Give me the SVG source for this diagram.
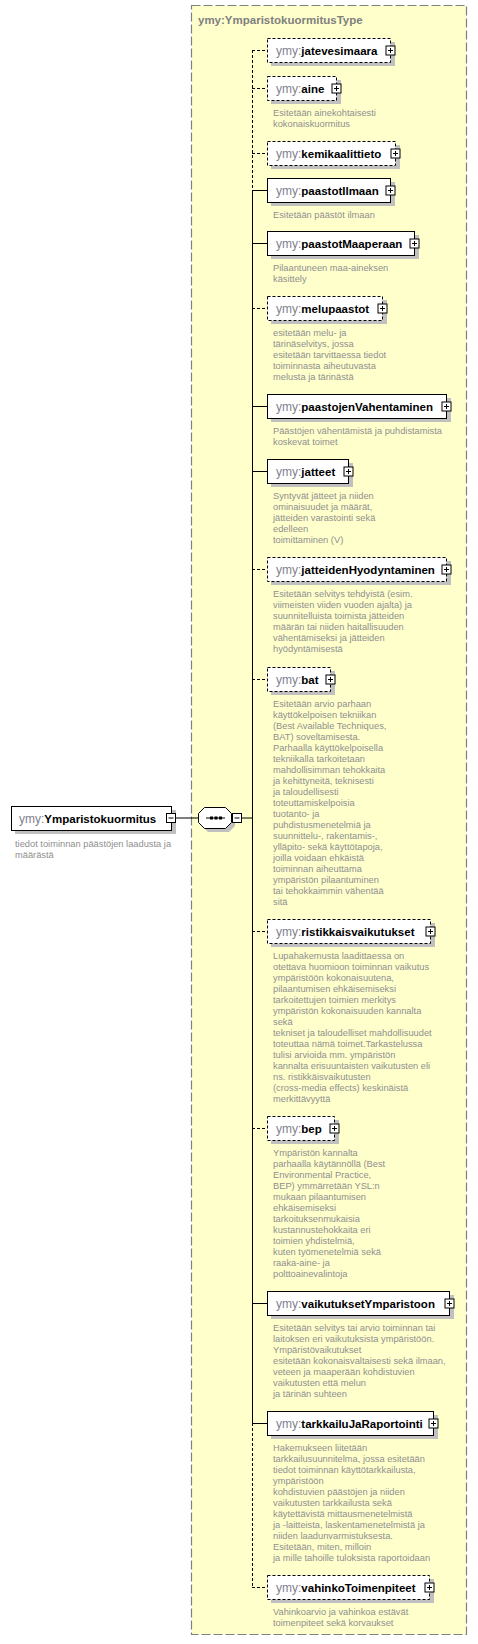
<svg xmlns="http://www.w3.org/2000/svg" width="478" height="1644" viewBox="0 0 478 1644">
<style>
.bg{fill:#ffffff}
.type{fill:#ffffcc;stroke:#808080;stroke-width:1.2;stroke-dasharray:9,3}
.typelbl{font-family:"Liberation Sans",Arial,sans-serif;font-size:11.5px;font-weight:bold;fill:#808080}
.sh{fill:#c0c0c0}
.box{fill:#ffffff;stroke:#000000;stroke-width:1}
.opt{stroke-dasharray:3,2}
.nm{font-family:"Liberation Sans",Arial,sans-serif;font-size:12px;fill:#000000}
.pf{fill:#7f7f8f;font-weight:normal}
.b{font-weight:bold;font-size:11.5px}
.ds{font-family:"Liberation Sans",Arial,sans-serif;font-size:9.3px;fill:#8f8f8f}
.ic{fill:#ffffff;stroke:#000000;stroke-width:1}
.icl{stroke:#000000;stroke-width:1}
.cn{stroke:#000000;stroke-width:1;fill:none}
.cd{stroke-dasharray:3,2}
</style>
<rect class="bg" x="0" y="0" width="478" height="1644"/>
<g id="type-YmparistokuormitusType">
<rect class="type" x="191.5" y="5.5" width="275" height="1629"/>
<text class="typelbl" x="198" y="23.5">ymy:YmparistokuormitusType</text>
</g>
<g id="connectors">
<line class="cn" x1="176" y1="818" x2="198" y2="818"/>
<line class="cn" x1="242" y1="818" x2="252.5" y2="818"/>
<line class="cn cd" x1="252.5" y1="50" x2="252.5" y2="190"/>
<line class="cn" x1="252.5" y1="190" x2="252.5" y2="1423"/>
<line class="cn cd" x1="252.5" y1="1423" x2="252.5" y2="1587"/>
<line class="cn cd" x1="252" y1="50.5" x2="267" y2="50.5"/>
<line class="cn cd" x1="252" y1="88.5" x2="267" y2="88.5"/>
<line class="cn cd" x1="252" y1="153.5" x2="267" y2="153.5"/>
<line class="cn" x1="252" y1="190.5" x2="267" y2="190.5"/>
<line class="cn" x1="252" y1="243.5" x2="267" y2="243.5"/>
<line class="cn cd" x1="252" y1="308.5" x2="267" y2="308.5"/>
<line class="cn" x1="252" y1="406.5" x2="267" y2="406.5"/>
<line class="cn" x1="252" y1="471.5" x2="267" y2="471.5"/>
<line class="cn cd" x1="252" y1="569.5" x2="267" y2="569.5"/>
<line class="cn cd" x1="252" y1="679.5" x2="267" y2="679.5"/>
<line class="cn cd" x1="252" y1="931.5" x2="267" y2="931.5"/>
<line class="cn cd" x1="252" y1="1128.5" x2="267" y2="1128.5"/>
<line class="cn" x1="252" y1="1303.5" x2="267" y2="1303.5"/>
<line class="cn" x1="252" y1="1423.5" x2="267" y2="1423.5"/>
<line class="cn cd" x1="252" y1="1587.5" x2="267" y2="1587.5"/>
</g>
<g id="root-Ymparistokuormitus">
<rect class="sh" x="15" y="810" width="161" height="24"/>
<rect class="box" x="11.5" y="806.5" width="160" height="24"/>
<text class="nm" x="19" y="822.5"><tspan class="pf">ymy:</tspan><tspan class="b">Ymparistokuormitus</tspan></text>
<rect class="ic" x="166.5" y="813.5" width="9" height="9"/>
<line class="icl" x1="168.5" y1="818" x2="173.5" y2="818"/>
<text class="ds" x="15" y="847">tiedot toiminnan päästöjen laadusta ja</text>
<text class="ds" x="15" y="858">määrästä</text>
</g>
<g id="sequence">
<path class="sh" d="M208,811 H229 L235,817 V826 L229,832 H208 L202,826 V817 Z"/>
<path class="box" d="M204.5,807.5 H225.5 L231.5,813.5 V822.5 L225.5,828.5 H204.5 L198.5,822.5 V813.5 Z"/>
<line class="icl" x1="206" y1="818" x2="225" y2="818"/>
<rect x="210" y="816.5" width="3" height="3" fill="#000"/>
<rect x="214.5" y="816.5" width="3" height="3" fill="#000"/>
<rect x="219" y="816.5" width="3" height="3" fill="#000"/>
<rect class="ic" x="232.5" y="813.5" width="9" height="9"/>
<line class="icl" x1="234.5" y1="818" x2="239.5" y2="818"/>
</g>
<g id="el-jatevesimaara">
<rect class="sh" x="271" y="42" width="124" height="24"/>
<rect class="box opt" x="267.5" y="38.5" width="123" height="24"/>
<text class="nm" x="276" y="55"><tspan class="pf">ymy:</tspan><tspan class="b">jatevesimaara</tspan></text>
<rect class="ic" x="386" y="46" width="9" height="9"/><line class="icl" x1="388" y1="50.5" x2="393" y2="50.5"/><line class="icl" x1="390.5" y1="48" x2="390.5" y2="53"/>
</g>
<g id="el-aine">
<rect class="sh" x="271" y="80" width="70" height="24"/>
<rect class="box opt" x="267.5" y="76.5" width="69" height="24"/>
<text class="nm" x="276" y="93"><tspan class="pf">ymy:</tspan><tspan class="b">aine</tspan></text>
<rect class="ic" x="332" y="84" width="9" height="9"/><line class="icl" x1="334" y1="88.5" x2="339" y2="88.5"/><line class="icl" x1="336.5" y1="86" x2="336.5" y2="91"/>
<text class="ds" x="273" y="116">Esitetään ainekohtaisesti</text>
<text class="ds" x="273" y="127">kokonaiskuormitus</text>
</g>
<g id="el-kemikaalittieto">
<rect class="sh" x="271" y="145" width="129" height="24"/>
<rect class="box opt" x="267.5" y="141.5" width="128" height="24"/>
<text class="nm" x="276" y="158"><tspan class="pf">ymy:</tspan><tspan class="b">kemikaalittieto</tspan></text>
<rect class="ic" x="391" y="149" width="9" height="9"/><line class="icl" x1="393" y1="153.5" x2="398" y2="153.5"/><line class="icl" x1="395.5" y1="151" x2="395.5" y2="156"/>
</g>
<g id="el-paastotIlmaan">
<rect class="sh" x="271" y="182" width="124" height="24"/>
<rect class="box" x="267.5" y="178.5" width="123" height="24"/>
<text class="nm" x="276" y="195"><tspan class="pf">ymy:</tspan><tspan class="b">paastotIlmaan</tspan></text>
<rect class="ic" x="386" y="186" width="9" height="9"/><line class="icl" x1="388" y1="190.5" x2="393" y2="190.5"/><line class="icl" x1="390.5" y1="188" x2="390.5" y2="193"/>
<text class="ds" x="273" y="218">Esitetään päästöt ilmaan</text>
</g>
<g id="el-paastotMaaperaan">
<rect class="sh" x="271" y="235" width="148" height="24"/>
<rect class="box" x="267.5" y="231.5" width="147" height="24"/>
<text class="nm" x="276" y="248"><tspan class="pf">ymy:</tspan><tspan class="b">paastotMaaperaan</tspan></text>
<rect class="ic" x="410" y="239" width="9" height="9"/><line class="icl" x1="412" y1="243.5" x2="417" y2="243.5"/><line class="icl" x1="414.5" y1="241" x2="414.5" y2="246"/>
<text class="ds" x="273" y="271">Pilaantuneen maa-aineksen</text>
<text class="ds" x="273" y="282">käsittely</text>
</g>
<g id="el-melupaastot">
<rect class="sh" x="271" y="300" width="116" height="24"/>
<rect class="box opt" x="267.5" y="296.5" width="115" height="24"/>
<text class="nm" x="276" y="313"><tspan class="pf">ymy:</tspan><tspan class="b">melupaastot</tspan></text>
<rect class="ic" x="378" y="304" width="9" height="9"/><line class="icl" x1="380" y1="308.5" x2="385" y2="308.5"/><line class="icl" x1="382.5" y1="306" x2="382.5" y2="311"/>
<text class="ds" x="273" y="336">esitetään melu- ja</text>
<text class="ds" x="273" y="347">tärinäselvitys, jossa</text>
<text class="ds" x="273" y="358">esitetään tarvittaessa tiedot</text>
<text class="ds" x="273" y="369">toiminnasta aiheutuvasta</text>
<text class="ds" x="273" y="380">melusta ja tärinästä</text>
</g>
<g id="el-paastojenVahentaminen">
<rect class="sh" x="271" y="398" width="180" height="24"/>
<rect class="box" x="267.5" y="394.5" width="179" height="24"/>
<text class="nm" x="276" y="411"><tspan class="pf">ymy:</tspan><tspan class="b">paastojenVahentaminen</tspan></text>
<rect class="ic" x="442" y="402" width="9" height="9"/><line class="icl" x1="444" y1="406.5" x2="449" y2="406.5"/><line class="icl" x1="446.5" y1="404" x2="446.5" y2="409"/>
<text class="ds" x="273" y="434">Päästöjen vähentämistä ja puhdistamista</text>
<text class="ds" x="273" y="445">koskevat toimet</text>
</g>
<g id="el-jatteet">
<rect class="sh" x="271" y="463" width="82" height="24"/>
<rect class="box" x="267.5" y="459.5" width="81" height="24"/>
<text class="nm" x="276" y="476"><tspan class="pf">ymy:</tspan><tspan class="b">jatteet</tspan></text>
<rect class="ic" x="344" y="467" width="9" height="9"/><line class="icl" x1="346" y1="471.5" x2="351" y2="471.5"/><line class="icl" x1="348.5" y1="469" x2="348.5" y2="474"/>
<text class="ds" x="273" y="499">Syntyvät jätteet ja niiden</text>
<text class="ds" x="273" y="510">ominaisuudet ja määrät,</text>
<text class="ds" x="273" y="521">jätteiden varastointi sekä</text>
<text class="ds" x="273" y="532">edelleen</text>
<text class="ds" x="273" y="543">toimittaminen (V)</text>
</g>
<g id="el-jatteidenHyodyntaminen">
<rect class="sh" x="271" y="561" width="180" height="24"/>
<rect class="box opt" x="267.5" y="557.5" width="179" height="24"/>
<text class="nm" x="276" y="574"><tspan class="pf">ymy:</tspan><tspan class="b">jatteidenHyodyntaminen</tspan></text>
<rect class="ic" x="442" y="565" width="9" height="9"/><line class="icl" x1="444" y1="569.5" x2="449" y2="569.5"/><line class="icl" x1="446.5" y1="567" x2="446.5" y2="572"/>
<text class="ds" x="273" y="597">Esitetään selvitys tehdyistä (esim.</text>
<text class="ds" x="273" y="608">viimeisten viiden vuoden ajalta) ja</text>
<text class="ds" x="273" y="619">suunnitelluista toimista jätteiden</text>
<text class="ds" x="273" y="630">määrän tai niiden haitallisuuden</text>
<text class="ds" x="273" y="641">vähentämiseksi ja jätteiden</text>
<text class="ds" x="273" y="652">hyödyntämisestä</text>
</g>
<g id="el-bat">
<rect class="sh" x="271" y="671" width="64" height="24"/>
<rect class="box opt" x="267.5" y="667.5" width="63" height="24"/>
<text class="nm" x="276" y="684"><tspan class="pf">ymy:</tspan><tspan class="b">bat</tspan></text>
<rect class="ic" x="326" y="675" width="9" height="9"/><line class="icl" x1="328" y1="679.5" x2="333" y2="679.5"/><line class="icl" x1="330.5" y1="677" x2="330.5" y2="682"/>
<text class="ds" x="273" y="707">Esitetään arvio parhaan</text>
<text class="ds" x="273" y="718">käyttökelpoisen tekniikan</text>
<text class="ds" x="273" y="729">(Best Available Techniques,</text>
<text class="ds" x="273" y="740">BAT) soveltamisesta.</text>
<text class="ds" x="273" y="751">Parhaalla käyttökelpoisella</text>
<text class="ds" x="273" y="762">tekniikalla tarkoitetaan</text>
<text class="ds" x="273" y="773">mahdollisimman tehokkaita</text>
<text class="ds" x="273" y="784">ja kehittyneitä, teknisesti</text>
<text class="ds" x="273" y="795">ja taloudellisesti</text>
<text class="ds" x="273" y="806">toteuttamiskelpoisia</text>
<text class="ds" x="273" y="817">tuotanto- ja</text>
<text class="ds" x="273" y="828">puhdistusmenetelmiä ja</text>
<text class="ds" x="273" y="839">suunnittelu-, rakentamis-,</text>
<text class="ds" x="273" y="850">ylläpito- sekä käyttötapoja,</text>
<text class="ds" x="273" y="861">joilla voidaan ehkäistä</text>
<text class="ds" x="273" y="872">toiminnan aiheuttama</text>
<text class="ds" x="273" y="883">ympäristön pilaantuminen</text>
<text class="ds" x="273" y="894">tai tehokkaimmin vähentää</text>
<text class="ds" x="273" y="905">sitä</text>
</g>
<g id="el-ristikkaisvaikutukset">
<rect class="sh" x="271" y="923" width="164" height="24"/>
<rect class="box opt" x="267.5" y="919.5" width="163" height="24"/>
<text class="nm" x="276" y="936"><tspan class="pf">ymy:</tspan><tspan class="b">ristikkaisvaikutukset</tspan></text>
<rect class="ic" x="426" y="927" width="9" height="9"/><line class="icl" x1="428" y1="931.5" x2="433" y2="931.5"/><line class="icl" x1="430.5" y1="929" x2="430.5" y2="934"/>
<text class="ds" x="273" y="959">Lupahakemusta laadittaessa on</text>
<text class="ds" x="273" y="970">otettava huomioon toiminnan vaikutus</text>
<text class="ds" x="273" y="981">ympäristöön kokonaisuutena,</text>
<text class="ds" x="273" y="992">pilaantumisen ehkäisemiseksi</text>
<text class="ds" x="273" y="1003">tarkoitettujen toimien merkitys</text>
<text class="ds" x="273" y="1014">ympäristön kokonaisuuden kannalta</text>
<text class="ds" x="273" y="1025">sekä</text>
<text class="ds" x="273" y="1036">tekniset ja taloudelliset mahdollisuudet</text>
<text class="ds" x="273" y="1047">toteuttaa nämä toimet.Tarkastelussa</text>
<text class="ds" x="273" y="1058">tulisi arvioida mm. ympäristön</text>
<text class="ds" x="273" y="1069">kannalta erisuuntaisten vaikutusten eli</text>
<text class="ds" x="273" y="1080">ns. ristikkäisvaikutusten</text>
<text class="ds" x="273" y="1091">(cross-media effects) keskinäistä</text>
<text class="ds" x="273" y="1102">merkittävyyttä</text>
</g>
<g id="el-bep">
<rect class="sh" x="271" y="1120" width="68" height="24"/>
<rect class="box opt" x="267.5" y="1116.5" width="67" height="24"/>
<text class="nm" x="276" y="1133"><tspan class="pf">ymy:</tspan><tspan class="b">bep</tspan></text>
<rect class="ic" x="330" y="1124" width="9" height="9"/><line class="icl" x1="332" y1="1128.5" x2="337" y2="1128.5"/><line class="icl" x1="334.5" y1="1126" x2="334.5" y2="1131"/>
<text class="ds" x="273" y="1156">Ympäristön kannalta</text>
<text class="ds" x="273" y="1167">parhaalla käytännöllä (Best</text>
<text class="ds" x="273" y="1178">Environmental Practice,</text>
<text class="ds" x="273" y="1189">BEP) ymmärretään YSL:n</text>
<text class="ds" x="273" y="1200">mukaan pilaantumisen</text>
<text class="ds" x="273" y="1211">ehkäisemiseksi</text>
<text class="ds" x="273" y="1222">tarkoituksenmukaisia</text>
<text class="ds" x="273" y="1233">kustannustehokkaita eri</text>
<text class="ds" x="273" y="1244">toimien yhdistelmiä,</text>
<text class="ds" x="273" y="1255">kuten työmenetelmiä sekä</text>
<text class="ds" x="273" y="1266">raaka-aine- ja</text>
<text class="ds" x="273" y="1277">polttoainevalintoja</text>
</g>
<g id="el-vaikutuksetYmparistoon">
<rect class="sh" x="271" y="1295" width="183" height="24"/>
<rect class="box" x="267.5" y="1291.5" width="182" height="24"/>
<text class="nm" x="276" y="1308"><tspan class="pf">ymy:</tspan><tspan class="b">vaikutuksetYmparistoon</tspan></text>
<rect class="ic" x="445" y="1299" width="9" height="9"/><line class="icl" x1="447" y1="1303.5" x2="452" y2="1303.5"/><line class="icl" x1="449.5" y1="1301" x2="449.5" y2="1306"/>
<text class="ds" x="273" y="1331">Esitetään selvitys tai arvio toiminnan tai</text>
<text class="ds" x="273" y="1342">laitoksen eri vaikutuksista ympäristöön.</text>
<text class="ds" x="273" y="1353">Ympäristövaikutukset</text>
<text class="ds" x="273" y="1364">esitetään kokonaisvaltaisesti sekä ilmaan,</text>
<text class="ds" x="273" y="1375">veteen ja maaperään kohdistuvien</text>
<text class="ds" x="273" y="1386">vaikutusten että melun</text>
<text class="ds" x="273" y="1397">ja tärinän suhteen</text>
</g>
<g id="el-tarkkailuJaRaportointi">
<rect class="sh" x="271" y="1415" width="167" height="24"/>
<rect class="box" x="267.5" y="1411.5" width="166" height="24"/>
<text class="nm" x="276" y="1428"><tspan class="pf">ymy:</tspan><tspan class="b">tarkkailuJaRaportointi</tspan></text>
<rect class="ic" x="429" y="1419" width="9" height="9"/><line class="icl" x1="431" y1="1423.5" x2="436" y2="1423.5"/><line class="icl" x1="433.5" y1="1421" x2="433.5" y2="1426"/>
<text class="ds" x="273" y="1451">Hakemukseen liitetään</text>
<text class="ds" x="273" y="1462">tarkkailusuunnitelma, jossa esitetään</text>
<text class="ds" x="273" y="1473">tiedot toiminnan käyttötarkkailusta,</text>
<text class="ds" x="273" y="1484">ympäristöön</text>
<text class="ds" x="273" y="1495">kohdistuvien päästöjen ja niiden</text>
<text class="ds" x="273" y="1506">vaikutusten tarkkailusta sekä</text>
<text class="ds" x="273" y="1517">käytettävistä mittausmenetelmistä</text>
<text class="ds" x="273" y="1528">ja -laitteista, laskentamenetelmistä ja</text>
<text class="ds" x="273" y="1539">niiden laadunvarmistuksesta.</text>
<text class="ds" x="273" y="1550">Esitetään, miten, milloin</text>
<text class="ds" x="273" y="1561">ja mille tahoille tuloksista raportoidaan</text>
</g>
<g id="el-vahinkoToimenpiteet">
<rect class="sh" x="271" y="1579" width="163" height="24"/>
<rect class="box opt" x="267.5" y="1575.5" width="162" height="24"/>
<text class="nm" x="276" y="1592"><tspan class="pf">ymy:</tspan><tspan class="b">vahinkoToimenpiteet</tspan></text>
<rect class="ic" x="425" y="1583" width="9" height="9"/><line class="icl" x1="427" y1="1587.5" x2="432" y2="1587.5"/><line class="icl" x1="429.5" y1="1585" x2="429.5" y2="1590"/>
<text class="ds" x="273" y="1615">Vahinkoarvio ja vahinkoa estävät</text>
<text class="ds" x="273" y="1626">toimenpiteet sekä korvaukset</text>
</g>
</svg>
